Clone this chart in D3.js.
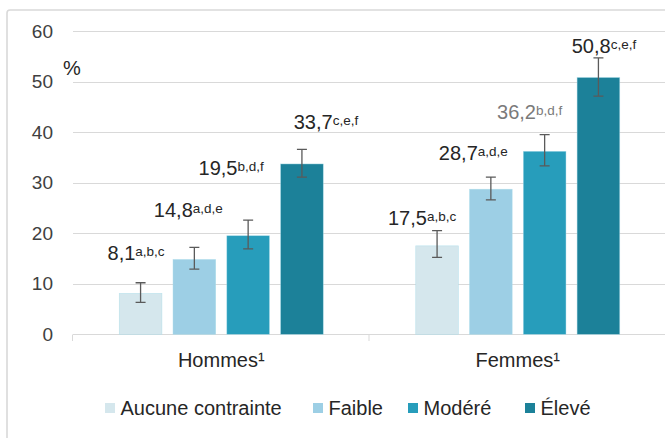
<!DOCTYPE html>
<html><head><meta charset="utf-8">
<script src="https://cdn.jsdelivr.net/npm/d3@7"></script>
<style>
body{margin:0;background:#fff;}
svg{display:block;font-family:"Liberation Sans",Arial,Helvetica,sans-serif;}
</style></head>
<body><svg id="chart" width="665" height="438"></svg>
<script>
// ---- data ----
const categories = ["Hommes¹", "Femmes¹"];
const seriesNames = ["Aucune contrainte", "Faible", "Modéré", "Élevé"];
const aucuneValues = [8.1, 17.5];
const faibleValues = [14.8, 28.7];
const modereValues = [19.5, 36.2];
const eleveValues  = [33.7, 50.8];
const aucuneLow = [6.3, 15.2],  aucuneHigh = [10.2, 20.5];
const faibleLow = [12.9, 26.6], faibleHigh = [17.2, 31.1];
const modereLow = [16.9, 33.3], modereHigh = [22.6, 39.5];
const eleveLow  = [31.1, 47.1], eleveHigh  = [36.6, 54.7];
const aucuneSup = ["a,b,c", "a,b,c"];
const faibleSup = ["a,d,e", "a,d,e"];
const modereSup = ["b,d,f", "b,d,f"];
const eleveSup  = ["c,e,f", "c,e,f"];
const yTicks = [0, 10, 20, 30, 40, 50, 60];

// ---- layout / style ----
const colors = ["#d5e7ed", "#9dcfe5", "#279dbb", "#1c8199"];
// label nudges [dx from bar centre, px above error-bar top], per series, per category
const labelNudge = [
  [[-4.5, 22.7], [-15, 5.7]],
  [[-6, 30.6],   [-17.5, 17]],
  [[-17, 45],    [-15, 15.4]],
  [[24, 20],     [5.5, 4.7]]
];
const labelColor = [["#262626","#262626"],["#262626","#262626"],["#262626","#7a7a7a"],["#262626","#262626"]];

const seriesVals = [aucuneValues, faibleValues, modereValues, eleveValues];
const seriesLow = [aucuneLow, faibleLow, modereLow, eleveLow];
const seriesHigh = [aucuneHigh, faibleHigh, modereHigh, eleveHigh];
const seriesSup = [aucuneSup, faibleSup, modereSup, eleveSup];

const svg = d3.select("#chart");

// outer frame
svg.append("rect").attr("x", 7).attr("y", 10).attr("width", 670).attr("height", 440)
  .attr("rx", 3).attr("fill", "none").attr("stroke", "#d9d9d9").attr("stroke-width", 1.6);

const x0 = d3.scaleBand().domain(categories).range([73, 666]).paddingInner(0).paddingOuter(0);
const x1 = d3.scaleBand().domain(seriesNames).range([0, x0.bandwidth()]).paddingInner(0.207).paddingOuter(0.86);
const y = d3.scaleLinear().domain([0, 60]).range([334.3, 31]);

// gridlines
svg.append("g").selectAll("line").data(yTicks.filter(d => d > 0)).join("line")
  .attr("x1", 73).attr("x2", 666)
  .attr("y1", d => Math.round(y(d)) + 0.5).attr("y2", d => Math.round(y(d)) + 0.5)
  .attr("stroke", "#d9d9d9").attr("stroke-width", 1);

// y axis labels
const yAxis = d3.axisLeft(y).tickValues(yTicks).tickSize(0).tickPadding(0).tickFormat(d3.format("d"));
const yg = svg.append("g").attr("transform", "translate(53,0)").call(yAxis);
yg.select(".domain").remove();
yg.selectAll("text").attr("font-size", 19).attr("fill", "#404040")
  .attr("font-family", "Liberation Sans, Arial, sans-serif");

svg.append("text").attr("x", 63).attr("y", 75).attr("font-size", 20).attr("fill", "#262626").text("%");

// x axis
const xAxis = d3.axisBottom(x0).tickSize(0).tickPadding(0);
const xg = svg.append("g").attr("transform", "translate(0,334.5)").call(xAxis);
xg.select(".domain").attr("stroke", "#d9d9d9").attr("d", "M73,0H666");
xg.selectAll("text").attr("font-size", 20).attr("fill", "#262626").attr("dy", 0).attr("y", 32)
  .attr("font-family", "Liberation Sans, Arial, sans-serif");
const boundaries = [73, x0(categories[1]), 666];
svg.append("g").selectAll("line").data(boundaries).join("line")
  .attr("x1", d => d - 0.5).attr("x2", d => d - 0.5).attr("y1", 334.5).attr("y2", 341)
  .attr("stroke", "#d9d9d9").attr("stroke-width", 1);

// bars
const fmt = v => d3.format(".1f")(v).replace(".", ",");
seriesNames.forEach((s, si) => {
  const g = svg.append("g");
  categories.forEach((c, ci) => {
    const v = seriesVals[si][ci];
    const bx = x0(c) + x1(s);
    const bw = x1.bandwidth();
    g.append("rect").attr("x", bx).attr("y", y(v)).attr("width", bw).attr("height", y(0) - y(v))
      .attr("fill", colors[si]).attr("stroke", "#a8dbea").attr("stroke-width", 0.6).attr("stroke-opacity", 0.7);
    const cx = bx + bw / 2;
    const yl = y(seriesLow[si][ci]), yh = y(seriesHigh[si][ci]);
    g.append("path").attr("d", `M${cx},${yh}V${yl}M${cx - 5},${yh}H${cx + 5}M${cx - 5},${yl}H${cx + 5}`)
      .attr("stroke", "#5a5a5a").attr("stroke-width", 1.3).attr("fill", "none");
    const nd = labelNudge[si][ci];
    const t = g.append("text").attr("x", cx + nd[0]).attr("y", yh - nd[1])
      .attr("text-anchor", "middle").attr("fill", labelColor[si][ci]);
    t.append("tspan").attr("font-size", 20).text(fmt(v));
    t.append("tspan").attr("font-size", 13.5).attr("dy", -4).text(seriesSup[si][ci]);
  });
});

// legend
const legendX = [105, 313, 408, 525];
const lg = svg.append("g");
seriesNames.forEach((s, i) => {
  lg.append("rect").attr("x", legendX[i]).attr("y", 403).attr("width", 10).attr("height", 10).attr("fill", colors[i]);
  lg.append("text").attr("x", legendX[i] + 15.5).attr("y", 414.5).attr("font-size", 20).attr("fill", "#262626").text(s);
});
</script></body></html>
